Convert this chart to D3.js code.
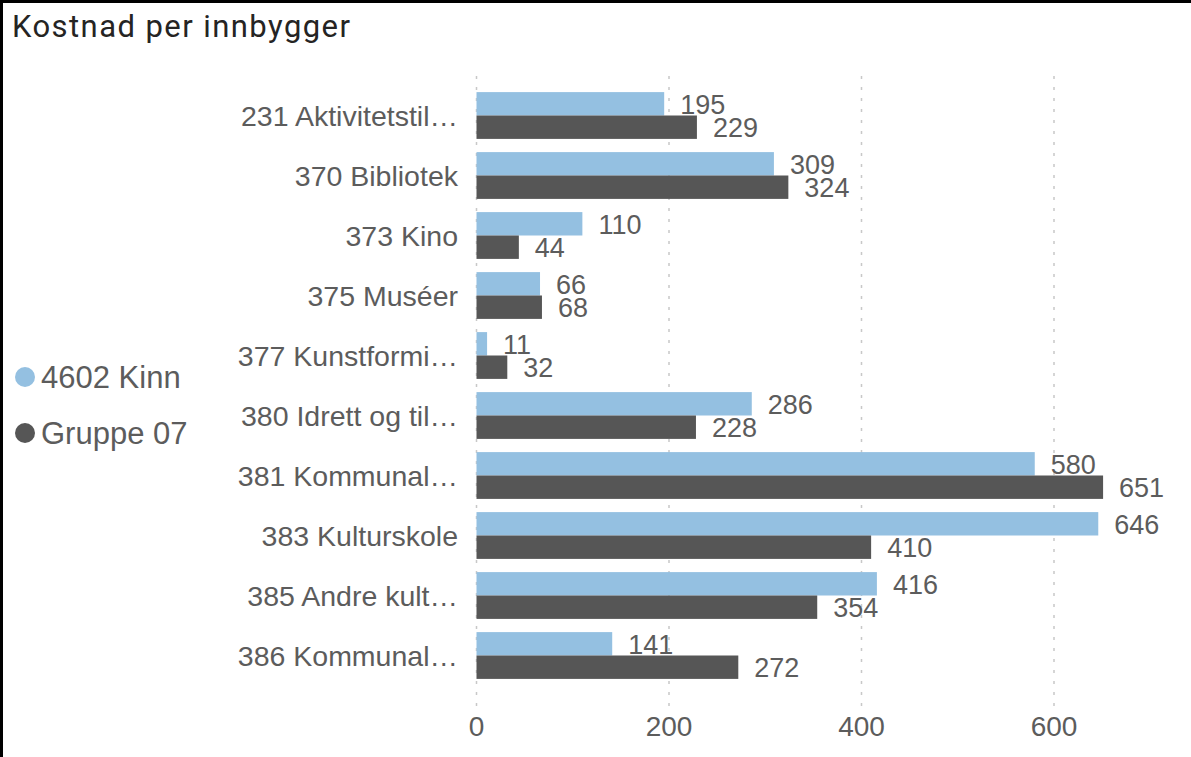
<!DOCTYPE html>
<html lang="no">
<head>
    <meta charset="UTF-8">
    <title>Kostnad per innbygger</title>
    <script src="https://d3js.org/d3.v7.min.js"></script>
    <style>
        body { margin: 0; background: #fff; }
        svg { display: block; }
        text { font-family: "Liberation Sans", Arial, sans-serif; fill: #5c5c5c; }
        .title { font-family: Roboto, "Noto Sans", sans-serif; font-size: 31px; font-weight: 400; fill: #252423; }
        .cat { font-size: 28.5px; }
        .val { font-size: 27px; }
        .tick-label { font-size: 28px; }
        .legend-label { font-size: 31px; }
    </style>
</head>
<body>
    <script>
        const width = 1191;
        const height = 757;

        const categories = ["231 Aktivitetstil…", "370 Bibliotek", "373 Kino", "375 Muséer", "377 Kunstformi…",
            "380 Idrett og til…", "381 Kommunal…", "383 Kulturskole", "385 Andre kult…", "386 Kommunal…"];
        const seriesNames = ["4602 Kinn", "Gruppe 07"];
        const kinn = [195, 309, 110, 66, 11, 286, 580, 646, 416, 141];
        const gruppe = [229, 324, 44, 68, 32, 228, 651, 410, 354, 272];
        const xTicks = [0, 200, 400, 600];

        const colors = ["#94c0e1", "#565656"];
        const series = [kinn, gruppe];

        let svg = d3.select("body").append("svg")
            .attr("width", width)
            .attr("height", height);

        // frame (only top and left edge are visible)
        svg.append("rect")
            .attr("x", 1.5).attr("y", 1.5)
            .attr("width", width + 10).attr("height", height + 10)
            .attr("fill", "none")
            .attr("stroke", "#000")
            .attr("stroke-width", 3);

        svg.append("text")
            .attr("class", "title")
            .attr("x", 12)
            .attr("y", 37)
            .attr("textLength", 338)
            .attr("lengthAdjust", "spacing")
            .text("Kostnad per innbygger");

        const x = d3.scaleLinear()
            .domain([0, 740])
            .range([476.5, 476.5 + 740 * 0.9625]);

        const y = d3.scaleBand()
            .domain(categories)
            .range([85.5, 685.5])
            .paddingInner(0.22)
            .paddingOuter(0.11);

        const ySub = d3.scaleBand()
            .domain(d3.range(series.length))
            .range([0, y.bandwidth()]);

        // dotted gridlines
        svg.append("g")
            .selectAll("line")
            .data(xTicks)
            .join("line")
            .attr("x1", d => x(d)).attr("x2", d => x(d))
            .attr("y1", 76).attr("y2", 706)
            .attr("stroke", "#c8c8c8")
            .attr("stroke-width", 1.5)
            .attr("stroke-dasharray", "3,8");

        // axis labels
        svg.append("g")
            .selectAll("text")
            .data(xTicks)
            .join("text")
            .attr("class", "tick-label")
            .attr("x", d => x(d))
            .attr("y", 736)
            .attr("text-anchor", "middle")
            .text(d => d);

        // category labels
        svg.append("g")
            .selectAll("text")
            .data(categories)
            .join("text")
            .attr("class", "cat")
            .attr("x", 458)
            .attr("y", d => y(d) + y.bandwidth() / 2)
            .attr("dy", "0.36em")
            .attr("text-anchor", "end")
            .text(d => d);

        const rows = [];
        series.forEach((vals, s) => {
            vals.forEach((v, i) => rows.push({ s: s, cat: categories[i], v: v }));
        });

        svg.append("g")
            .selectAll("rect")
            .data(rows)
            .join("rect")
            .attr("x", x(0))
            .attr("y", d => y(d.cat) + ySub(d.s))
            .attr("width", d => x(d.v) - x(0))
            .attr("height", ySub.bandwidth())
            .attr("fill", d => colors[d.s]);

        svg.append("g")
            .selectAll("text")
            .data(rows)
            .join("text")
            .attr("class", "val")
            .attr("x", d => x(d.v) + 16)
            .attr("y", d => y(d.cat) + ySub(d.s) + ySub.bandwidth() / 2)
            .attr("dy", "0.36em")
            .text(d => d.v);

        // legend
        let legend = svg.append("g")
            .selectAll("g")
            .data(seriesNames)
            .join("g")
            .attr("transform", (d, i) => `translate(25, ${377 + i * 56})`);

        legend.append("circle")
            .attr("r", 10)
            .attr("fill", (d, i) => colors[i]);

        legend.append("text")
            .attr("class", "legend-label")
            .attr("x", 16)
            .attr("dy", "0.36em")
            .text(d => d);
    </script>
</body>
</html>
